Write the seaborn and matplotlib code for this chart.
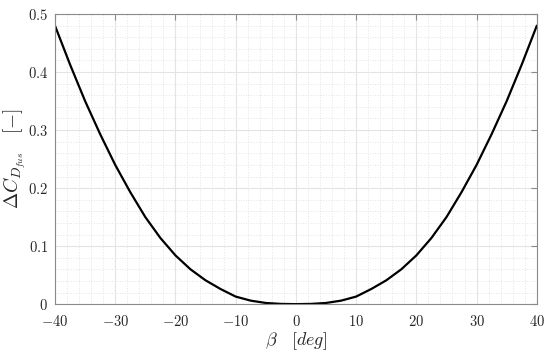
import numpy as np
import pandas as pd
import seaborn as sns
import matplotlib
matplotlib.use("Agg")
import matplotlib.pyplot as plt
from matplotlib.ticker import MultipleLocator, AutoMinorLocator, FuncFormatter

# sideslip angle (deg) and fuselage drag increment
beta = [-40, -37.5, -35, -32.5, -30, -27.5, -25, -22.5, -20, -17.5, -15, -12.5,
        -10, -7.5, -5, -2.5, 0, 2.5, 5, 7.5, 10, 12.5, 15, 17.5, 20, 22.5,
        25, 27.5, 30, 32.5, 35, 37.5, 40]
dcd_fus = [0.48, 0.413, 0.35, 0.293, 0.24, 0.193, 0.15, 0.114, 0.084, 0.06,
           0.041, 0.026, 0.013, 0.006, 0.002, 0.0004, 0.0, 0.0004, 0.002, 0.006,
           0.013, 0.026, 0.041, 0.06, 0.084, 0.114, 0.15, 0.193, 0.24, 0.293,
           0.35, 0.413, 0.48]

df = pd.DataFrame({"beta": beta, "dcd": dcd_fus})

sns.set_style("white")
plt.rcParams["mathtext.fontset"] = "cm"
plt.rcParams["font.family"] = ["DejaVu Serif"]

fig = plt.figure(figsize=(5.5, 3.52), dpi=100)
ax = fig.add_axes([0.1, 0.136, 0.876, 0.824])

sns.lineplot(data=df, x="beta", y="dcd", color="black", linewidth=1.6, ax=ax)

ax.set_xlim(-40, 40)
ax.set_ylim(0, 0.5)
ax.xaxis.set_major_locator(MultipleLocator(10))
ax.yaxis.set_major_locator(MultipleLocator(0.1))
ax.xaxis.set_minor_locator(AutoMinorLocator(5))
ax.yaxis.set_minor_locator(AutoMinorLocator(5))

fmt = FuncFormatter(lambda v, p: r"$%g$" % round(v, 3))
ax.xaxis.set_major_formatter(fmt)
ax.yaxis.set_major_formatter(fmt)

ax.grid(which="major", color="#e4e4e4", linewidth=0.8, linestyle="-")
ax.grid(which="minor", color="#e4e4e4", linewidth=0.7, linestyle=":")
ax.set_axisbelow(True)

for s in ax.spines.values():
    s.set_color("#8a8a8a")
    s.set_linewidth(0.8)
ax.tick_params(which="major", direction="in", length=4, width=0.8, color="#8a8a8a",
               top=True, right=True, labelsize=10.5, labelcolor="#262626", pad=5)
ax.tick_params(axis="x", which="major", pad=7)
ax.tick_params(which="minor", length=0)

ax.set_xlabel(r"$\beta\quad[deg]$", fontsize=13, color="#262626", labelpad=1)
ax.set_ylabel(r"$\Delta C_{D_{fus}}\quad[-]$", fontsize=14, color="#262626")
ax.yaxis.set_label_coords(-0.056, 0.5)

fig.savefig("out.png", dpi=100)
